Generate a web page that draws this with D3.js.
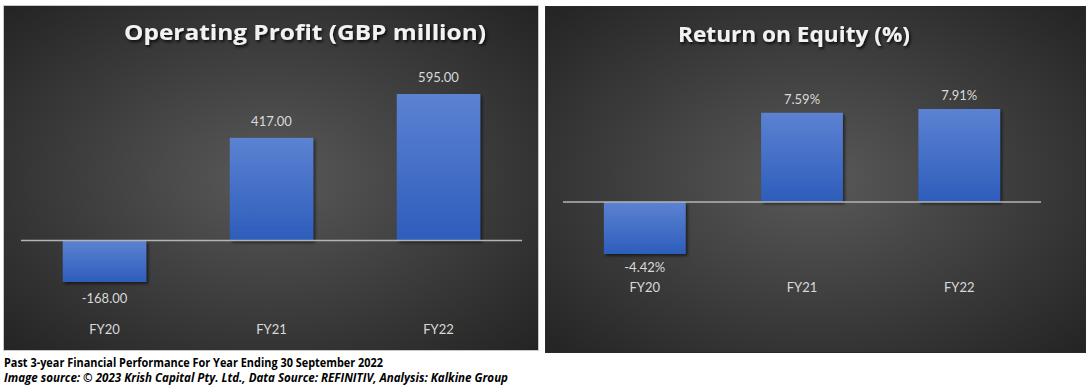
<!DOCTYPE html>
<html>
<head>
<meta charset="utf-8">
<script src="https://cdn.jsdelivr.net/npm/d3@7"></script>
<style>
  body { margin: 0; background: #fff; }
  svg { display: block; }
</style>
</head>
<body>
<div id="chart"></div>
<script>
// data
let categories = ['FY20', 'FY21', 'FY22'];
let profitValues = [-168, 417, 595];
let roeValues = [-4.42, 7.59, 7.91];
let titles = ['Operating Profit (GBP million)', 'Return on Equity (%)'];
let footnotes = ['Past 3-year Financial Performance For Year Ending 30 September 2022',
  'Image source: \u00A9 2023 Krish Capital Pty. Ltd., Data Source: REFINITIV, Analysis: Kalkine Group'];

// plain hyphen for negatives, like the original
let locale = d3.formatLocale({decimal: '.', thousands: ',', grouping: [3], currency: ['', ''], minus: '-'});
let fmt2 = locale.format('.2f');

let svg = d3.select('#chart').append('svg')
  .attr('width', 1090)
  .attr('height', 387);

let defs = svg.append('defs');

// panel background
let bg = defs.append('radialGradient')
  .attr('id', 'panelBg')
  .attr('cx', '50%').attr('cy', '50%').attr('r', '70%');
bg.append('stop').attr('offset', '0%').attr('stop-color', '#595959');
bg.append('stop').attr('offset', '100%').attr('stop-color', '#242424');

// bar fill
let barFill = defs.append('linearGradient')
  .attr('id', 'barFill')
  .attr('x1', 0).attr('y1', 0).attr('x2', 0).attr('y2', 1);
barFill.append('stop').attr('offset', '0%').attr('stop-color', '#5c82d2');
barFill.append('stop').attr('offset', '100%').attr('stop-color', '#2d5dbb');

let shadow = defs.append('filter').attr('id', 'barShadow')
  .attr('x', '-10%').attr('y', '-10%').attr('width', '130%').attr('height', '130%');
shadow.append('feDropShadow')
  .attr('dx', 2).attr('dy', 2).attr('stdDeviation', 1.5)
  .attr('flood-color', '#000').attr('flood-opacity', 0.55);

let titleShadow = defs.append('filter').attr('id', 'titleShadow')
  .attr('x', '-5%').attr('y', '-20%').attr('width', '110%').attr('height', '150%');
titleShadow.append('feDropShadow')
  .attr('dx', 1.5).attr('dy', 2).attr('stdDeviation', 1.5)
  .attr('flood-color', '#000').attr('flood-opacity', 0.8);

// one panel per chart
function drawPanel(opt) {
  let g = svg.append('g');

  g.append('rect')
    .attr('x', opt.box[0]).attr('y', opt.box[1])
    .attr('width', opt.box[2]).attr('height', opt.box[3])
    .attr('fill', 'url(#panelBg)')
    .attr('stroke', opt.border)
    .attr('stroke-width', 1);

  let xScale = d3.scaleBand()
    .domain(categories)
    .range(opt.xRange)
    .paddingInner(opt.padInner)
    .paddingOuter(opt.padOuter);

  let yScale = d3.scaleLinear()
    .domain(d3.extent(opt.values))
    .range(opt.yRange);

  let data = categories.map(function(c, i) {
    return {cat: c, value: opt.values[i]};
  });

  // bars
  g.selectAll('.bar')
    .data(data)
    .enter().append('rect')
    .attr('class', 'bar')
    .attr('x', function(d) { return xScale(d.cat); })
    .attr('width', xScale.bandwidth())
    .attr('y', function(d) { return yScale(Math.max(0, d.value)); })
    .attr('height', function(d) { return Math.abs(yScale(d.value) - yScale(0)); })
    .attr('fill', 'url(#barFill)')
    .attr('filter', 'url(#barShadow)');

  // zero line
  g.append('line')
    .attr('x1', opt.xRange[0]).attr('x2', opt.xRange[1])
    .attr('y1', yScale(0)).attr('y2', yScale(0))
    .attr('stroke', '#b4b4b4')
    .attr('stroke-width', 1.5);

  // value labels
  g.selectAll('.label')
    .data(data)
    .enter().append('text')
    .attr('class', 'label')
    .attr('x', function(d) { return xScale(d.cat) + xScale.bandwidth() / 2; })
    .attr('y', function(d) {
      return d.value >= 0 ? yScale(d.value) - opt.labelGap : yScale(d.value) + opt.labelGap + 9;
    })
    .attr('text-anchor', 'middle')
    .style('font-family', 'Lato, "Open Sans", sans-serif')
    .style('font-size', '13px')
    .attr('fill', '#d9d9d9')
    .text(function(d) { return opt.format(d.value); });

  // category axis (no line, only labels)
  let axis = g.append('g')
    .attr('transform', 'translate(0,' + opt.catY + ')')
    .call(d3.axisBottom(xScale).tickSize(0).tickPadding(0));
  axis.select('.domain').remove();
  axis.selectAll('text')
    .style('font-family', 'Lato, "Open Sans", sans-serif')
    .style('font-size', '13px')
    .attr('fill', '#d9d9d9');

  // title
  g.append('text')
    .attr('x', opt.titleX)
    .attr('y', opt.titleY)
    .attr('text-anchor', 'middle')
    .attr('textLength', opt.titleW)
    .attr('lengthAdjust', 'spacingAndGlyphs')
    .style('font-family', '"Open Sans", sans-serif')
    .style('font-weight', 'bold')
    .style('font-size', '22px')
    .attr('fill', '#f2f2f2')
    .attr('filter', 'url(#titleShadow)')
    .text(opt.title);
}

drawPanel({
  box: [3.5, 5.5, 535, 345],
  border: '#c8c8c8',
  values: profitValues,
  xRange: [21, 522],
  padInner: 0.5,
  padOuter: 0.25,
  yRange: [282, 94],
  labelGap: 12,
  catY: 325,
  format: fmt2,
  title: titles[0],
  titleX: 305,
  titleY: 40,
  titleW: 362
});

drawPanel({
  box: [545.5, 6.5, 540, 346],
  border: '#2a2a2a',
  values: roeValues,
  xRange: [563, 1041],
  padInner: 0.48,
  padOuter: 0.26,
  yRange: [254, 109],
  labelGap: 9,
  catY: 283,
  format: function(v) { return fmt2(v) + '%'; },
  title: titles[1],
  titleX: 794,
  titleY: 42,
  titleW: 232
});

// footnotes
svg.append('text')
  .attr('x', 4).attr('y', 367)
  .attr('textLength', 379)
  .attr('lengthAdjust', 'spacingAndGlyphs')
  .style('font-family', '"Open Sans", sans-serif')
  .style('font-weight', 'bold')
  .style('font-size', '12px')
  .attr('fill', '#000')
  .text(footnotes[0]);

svg.append('text')
  .attr('x', 4).attr('y', 382)
  .attr('textLength', 504)
  .attr('lengthAdjust', 'spacingAndGlyphs')
  .style('font-family', '"Open Sans", sans-serif')
  .style('font-weight', 'bold')
  .style('font-style', 'italic')
  .style('font-size', '12px')
  .attr('fill', '#000')
  .text(footnotes[1]);
</script>
</body>
</html>
